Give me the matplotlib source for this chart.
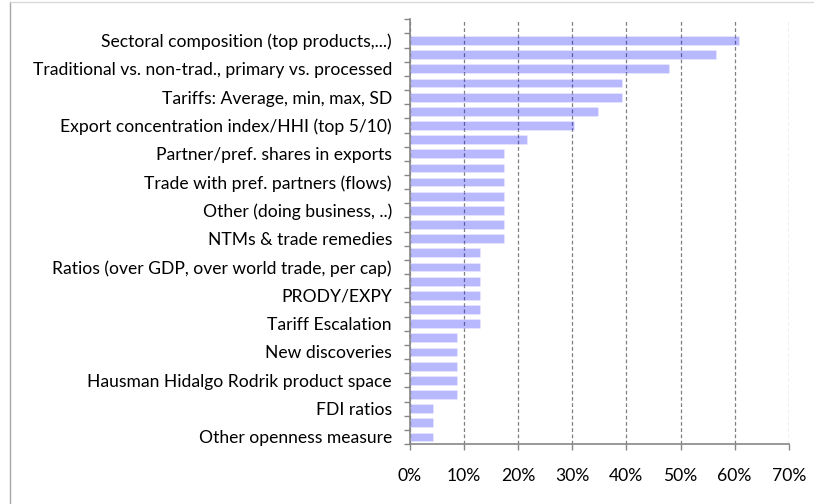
import numpy as np
import matplotlib.pyplot as plt
from matplotlib.lines import Line2D
from matplotlib.ticker import PercentFormatter

# labels shown on every second bar (top to bottom)
labels = [
    'Sectoral composition (top products,...)',
    'Traditional vs. non-trad., primary vs. processed',
    'Tariffs: Average, min, max, SD',
    'Export concentration index/HHI (top 5/10)',
    'Partner/pref. shares in exports',
    'Trade with pref. partners (flows)',
    'Other (doing business, ..)',
    'NTMs & trade remedies',
    'Ratios (over GDP, over world trade, per cap)',
    'PRODY/EXPY',
    'Tariff Escalation',
    'New discoveries',
    'Hausman Hidalgo Rodrik product space',
    'FDI ratios',
    'Other openness measure',
]

# share of answers, top to bottom (%)
values = [60.9, 56.5, 47.8, 39.1, 39.1, 34.8, 30.4, 21.7,
          17.4, 17.4, 17.4, 17.4, 17.4, 17.4, 17.4,
          13.0, 13.0, 13.0, 13.0, 13.0, 13.0,
          8.7, 8.7, 8.7, 8.7, 8.7,
          4.3, 4.3, 4.3]

xticks = [0, 10, 20, 30, 40, 50, 60, 70]

plt.rcParams['font.family'] = ['Lato', 'DejaVu Sans']

fig = plt.figure(figsize=(8.14, 5.04), dpi=100)
ax = fig.add_axes([410 / 814, 60 / 504, 378.7 / 814, 424.7 / 504])

n = len(values)
ypos = np.arange(n)[::-1]  # first value at top
ax.barh(ypos, values, height=0.62, color='blue', alpha=0.28,
        edgecolor='white', linewidth=0.6, zorder=2)

ax.set_xlim(0, 70)
ax.set_ylim(-0.5, n + 0.5)  # one empty slot on top
ax.set_xticks(xticks)
ax.xaxis.set_major_formatter(PercentFormatter(decimals=0))

ax.set_yticks(ypos[::2])
ax.set_yticklabels(labels)
ax.set_yticks(np.arange(-0.5, n + 1, 1), minor=True)
ax.tick_params(axis='y', which='major', length=0, pad=13, labelsize=12.6)
ax.tick_params(axis='y', which='minor', length=4, color='#868686', width=1)
ax.tick_params(axis='x', length=4.5, color='#868686', width=1, pad=13,
               labelsize=12.6)

ax.grid(axis='x', linestyle=(0, (3, 2)), color='#808080', linewidth=0.9,
        zorder=1)
ax.set_axisbelow(True)

for s in ['top', 'right']:
    ax.spines[s].set_visible(False)
for s in ['left', 'bottom']:
    ax.spines[s].set_color('#868686')
    ax.spines[s].set_linewidth(1.2)
    ax.spines[s].set_zorder(3)

# chart-area border: only left and top edges are inside the picture
x0 = 10 / 814
y1 = 1 - 1.5 / 504
fig.add_artist(Line2D([x0, x0], [0, y1], transform=fig.transFigure,
                      color='#A6A6A6', linewidth=1))
fig.add_artist(Line2D([x0, 1], [y1, y1], transform=fig.transFigure,
                      color='#D9D9D9', linewidth=1))

fig.savefig('out.png', dpi=100)
